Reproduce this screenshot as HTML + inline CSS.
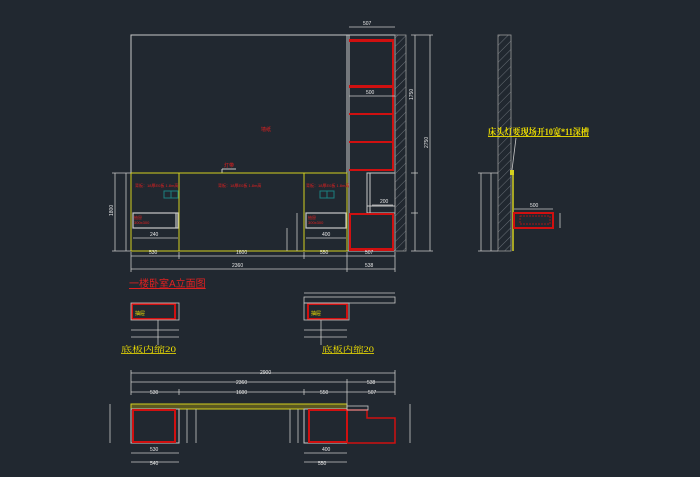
<!DOCTYPE html>
<html><head><meta charset="utf-8"><style>
html,body{margin:0;padding:0;background:#212830;}
svg{display:block}
text{font-family:"Liberation Sans","Noto Sans CJK SC",sans-serif;}
.sf{font-family:"Liberation Serif","Noto Serif CJK SC",serif;}
</style></head><body>
<svg width="700" height="477" viewBox="0 0 700 477" xmlns="http://www.w3.org/2000/svg">
<defs>
<pattern id="h" width="6" height="6" patternUnits="userSpaceOnUse" patternTransform="rotate(45)">
<line x1="0" y1="0" x2="0" y2="6" stroke="#8a8f96" stroke-width="0.7"/>
</pattern>
</defs>
<rect width="700" height="477" fill="#212830"/>
<g fill="none" stroke="#c8c8c8" stroke-width="1">
<rect x="131" y="35" width="216" height="138"/>
<rect x="347" y="35" width="48" height="216"/>
<line x1="349" y1="35" x2="349" y2="251"/>
<rect x="367" y="173" width="28" height="40"/>
<line x1="370" y1="173" x2="370" y2="213"/>
<line x1="367" y1="206" x2="395" y2="206"/>
<line x1="222" y1="169" x2="236" y2="169"/>
<line x1="222" y1="169" x2="222" y2="173"/>
</g>
<rect x="395" y="35" width="11" height="216" fill="url(#h)" stroke="#9a9a9a" stroke-width="0.8"/>
<g fill="#d01010">
<rect x="349" y="39" width="45" height="3"/>
<rect x="349" y="85" width="45" height="3"/>
<rect x="349" y="113" width="45" height="2"/>
<rect x="349" y="141" width="45" height="2"/>
<rect x="349" y="169" width="45" height="2"/>
<rect x="349" y="213" width="45" height="2"/>
<rect x="349" y="248" width="45" height="3"/>
<rect x="392" y="39" width="2" height="132"/>
<rect x="392" y="213" width="2" height="38"/>
<rect x="349" y="213" width="2" height="38"/>
</g>
<g fill="none" stroke="#d4d020" stroke-width="1">
<rect x="131" y="173" width="216" height="78"/>
<line x1="179" y1="173" x2="179" y2="251"/>
<line x1="304" y1="173" x2="304" y2="251"/>
</g>
<g fill="none" stroke="#c8c8c8" stroke-width="1.2">
<rect x="133" y="213" width="45" height="15"/>
<rect x="306" y="213" width="40" height="15"/>
<line x1="176" y1="213" x2="176" y2="228"/>
</g>
<g fill="none" stroke="#1a8080" stroke-width="1">
<rect x="164" y="191" width="7" height="7"/><rect x="171" y="191" width="7" height="7"/>
<rect x="320" y="191" width="7" height="7"/><rect x="327" y="191" width="7" height="7"/>
</g>
<g fill="#e02020" font-size="4">
<text x="135" y="187">背板：18厚E0板 1.8m高</text>
<text x="218" y="187">背板：18厚E0板 1.8m高</text>
<text x="306" y="187">背板：18厚E0板 1.8m高</text>
<text x="134" y="219">抽屉</text><text x="134" y="224">300x300</text>
<text x="308" y="219">抽屉</text><text x="308" y="224">300x300</text>
<text x="261" y="131" font-size="5">墙纸</text>
<text x="224" y="167" font-size="5">灯带</text>
</g>
<g stroke="#c8c8c8" stroke-width="0.8" fill="none">
<line x1="131" y1="256" x2="395" y2="256"/>
<line x1="131" y1="269" x2="395" y2="269"/>
<line x1="131" y1="252" x2="131" y2="272"/><line x1="179" y1="252" x2="179" y2="259"/>
<line x1="304" y1="252" x2="304" y2="259"/><line x1="347" y1="252" x2="347" y2="272"/>
<line x1="395" y1="252" x2="395" y2="272"/>
<line x1="115" y1="173" x2="115" y2="251"/><line x1="126" y1="173" x2="126" y2="251"/>
<line x1="112" y1="173" x2="131" y2="173"/><line x1="112" y1="251" x2="131" y2="251"/>
<line x1="415" y1="35" x2="415" y2="251"/><line x1="430" y1="35" x2="430" y2="251"/>
<line x1="411" y1="35" x2="433" y2="35"/><line x1="411" y1="251" x2="433" y2="251"/>
<line x1="411" y1="173" x2="418" y2="173"/><line x1="411" y1="213" x2="418" y2="213"/>
<line x1="349" y1="27" x2="395" y2="27"/>
<line x1="349" y1="96" x2="395" y2="96"/>
<line x1="133" y1="238" x2="178" y2="238"/><line x1="306" y1="238" x2="346" y2="238"/>
<line x1="297" y1="213" x2="297" y2="251"/><line x1="287" y1="228" x2="287" y2="251"/>
<line x1="372" y1="205" x2="393" y2="205"/>
</g>
<g fill="#e8e8e8" font-size="5">
<text x="149" y="254">530</text><text x="236" y="254">1600</text><text x="320" y="254">550</text><text x="365" y="254">507</text>
<text x="232" y="267">2360</text><text x="365" y="267">538</text>
<text x="363" y="25">507</text><text x="366" y="94">500</text>
<text x="150" y="236">240</text><text x="322" y="236">400</text>
<text x="380" y="203">200</text>
<text transform="translate(113,216) rotate(-90)">1800</text>
<text transform="translate(428,148) rotate(-90)">2750</text>
<text transform="translate(413,100) rotate(-90)">1750</text>
</g>
<text x="129" y="287" fill="#e02020" font-size="10" text-decoration="underline">一楼卧室A立面图</text>
<rect x="498" y="35" width="13" height="216" fill="url(#h)" stroke="#9a9a9a" stroke-width="0.8"/>
<line x1="513" y1="173" x2="513" y2="251" stroke="#d4d020" stroke-width="1.5"/>
<rect x="510" y="170" width="4" height="5" fill="#d4d020"/>
<rect x="514" y="213" width="39" height="15" fill="none" stroke="#d01010" stroke-width="2"/>
<rect x="520" y="216" width="30" height="8" fill="none" stroke="#d01010" stroke-width="0.7" stroke-dasharray="2,1"/>
<g stroke="#c8c8c8" stroke-width="0.8" fill="none">
<line x1="514" y1="209" x2="553" y2="209"/>
<line x1="481" y1="173" x2="481" y2="251"/><line x1="491" y1="173" x2="491" y2="251"/>
<line x1="478" y1="173" x2="498" y2="173"/><line x1="478" y1="251" x2="498" y2="251"/>
<line x1="560" y1="213" x2="560" y2="228"/>
<line x1="516" y1="138" x2="512" y2="170"/>
</g>
<text x="530" y="207" fill="#e8e8e8" font-size="5">500</text>
<text x="488" y="135" class="sf" fill="#f0e000" font-size="9" font-weight="bold" text-decoration="underline" textLength="101" lengthAdjust="spacingAndGlyphs">床头灯要现场开10宽*11深槽</text>
<rect x="132" y="304" width="43" height="15" fill="none" stroke="#d01010" stroke-width="2"/>
<rect x="131" y="303" width="48" height="17" fill="none" stroke="#c8c8c8" stroke-width="0.8"/>
<rect x="308" y="304" width="39" height="15" fill="none" stroke="#d01010" stroke-width="2"/>
<rect x="304" y="303" width="45" height="17" fill="none" stroke="#c8c8c8" stroke-width="0.8"/>
<rect x="304" y="297" width="91" height="6" fill="none" stroke="#c8c8c8" stroke-width="0.8"/>
<g stroke="#c8c8c8" stroke-width="0.8" fill="none">
<line x1="131" y1="330" x2="179" y2="330"/><line x1="131" y1="337" x2="179" y2="337"/>
<line x1="304" y1="330" x2="347" y2="330"/><line x1="304" y1="337" x2="347" y2="337"/>
<line x1="304" y1="293" x2="395" y2="293"/>
<line x1="158" y1="320" x2="158" y2="345"/><line x1="321" y1="320" x2="321" y2="345"/>
</g>
<text x="135" y="315" fill="#f0e000" font-size="5">抽屉</text>
<text x="311" y="315" fill="#f0e000" font-size="5">抽屉</text>
<text x="121" y="352" class="sf" fill="#f0e000" font-size="8" text-decoration="underline" textLength="55" lengthAdjust="spacingAndGlyphs">底板内缩20</text>
<text x="322" y="352" class="sf" fill="#f0e000" font-size="8" text-decoration="underline" textLength="52" lengthAdjust="spacingAndGlyphs">底板内缩20</text>
<rect x="131" y="404" width="216" height="5" fill="#5a5820" stroke="#d4d020" stroke-width="1"/>
<rect x="131" y="409" width="48" height="34" fill="none" stroke="#c8c8c8" stroke-width="1"/>
<rect x="304" y="409" width="43" height="34" fill="none" stroke="#c8c8c8" stroke-width="1"/>
<rect x="133" y="410" width="42" height="32" fill="none" stroke="#d01010" stroke-width="2"/>
<rect x="309" y="410" width="38" height="32" fill="none" stroke="#d01010" stroke-width="2"/>
<path d="M347 410 H367 V418 H395 V443 H347" fill="none" stroke="#d01010" stroke-width="1.5"/>
<rect x="347" y="406" width="21" height="4" fill="none" stroke="#c8c8c8" stroke-width="0.8"/>
<g stroke="#c8c8c8" stroke-width="0.8" fill="none">
<line x1="131" y1="373" x2="395" y2="373"/>
<line x1="131" y1="382" x2="395" y2="382"/>
<line x1="131" y1="392" x2="395" y2="392"/>
<line x1="131" y1="370" x2="131" y2="395"/><line x1="179" y1="389" x2="179" y2="395"/>
<line x1="304" y1="389" x2="304" y2="395"/><line x1="347" y1="379" x2="347" y2="408"/>
<line x1="395" y1="370" x2="395" y2="395"/>
<line x1="131" y1="453" x2="179" y2="453"/><line x1="131" y1="462" x2="179" y2="462"/>
<line x1="304" y1="453" x2="347" y2="453"/><line x1="304" y1="462" x2="347" y2="462"/>
<line x1="110" y1="404" x2="110" y2="443"/><line x1="410" y1="404" x2="410" y2="443"/>
<line x1="187" y1="409" x2="187" y2="443"/><line x1="196" y1="409" x2="196" y2="443"/>
<line x1="290" y1="409" x2="290" y2="443"/><line x1="298" y1="409" x2="298" y2="443"/>
</g>
<g fill="#e8e8e8" font-size="5">
<text x="260" y="374">2900</text><text x="236" y="384">2360</text><text x="367" y="384">538</text>
<text x="150" y="394">530</text><text x="236" y="394">1600</text><text x="320" y="394">550</text><text x="368" y="394">507</text>
<text x="150" y="451">530</text><text x="322" y="451">400</text>
<text x="150" y="465">540</text><text x="318" y="465">550</text>
</g>
</svg>
</body></html>
